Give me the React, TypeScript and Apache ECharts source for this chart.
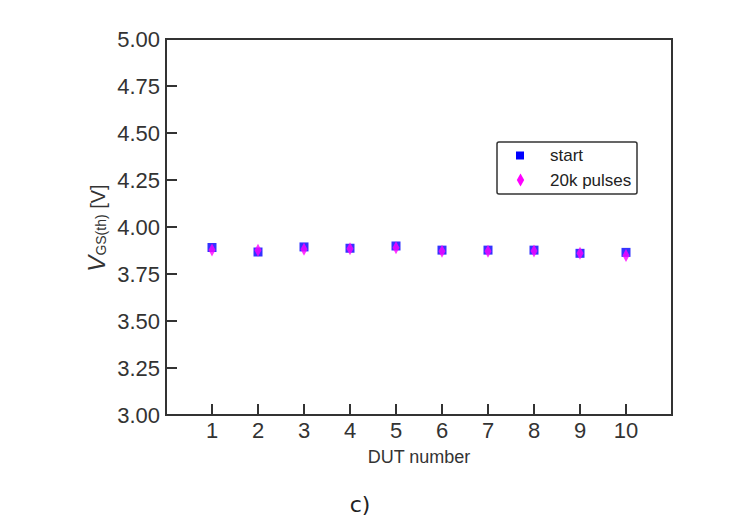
import React, { useEffect, useRef } from "react";
import * as echarts from "echarts";

const dutNumbers = [1, 2, 3, 4, 5, 6, 7, 8, 9, 10];
const startValues = [3.891, 3.867, 3.894, 3.887, 3.899, 3.877, 3.877, 3.877, 3.86, 3.865];
const pulsesValues = [3.878, 3.876, 3.882, 3.884, 3.89, 3.871, 3.871, 3.873, 3.86, 3.848];
const seriesNames = ["start", "20k pulses"];
const xRange = [0, 11];
const yRange = [3, 5];

const FONT = "'Liberation Sans', Arial, sans-serif";
const AX = "#333";

export default function App() {
  const ref = useRef<HTMLDivElement>(null);
  useEffect(() => {
    if (!ref.current) return;
    const chart = echarts.init(ref.current, null, { renderer: "svg" });
    const option: any = {
      animation: false,
      backgroundColor: "#fff",
      grid: {
        left: 166,
        right: 62,
        top: 39,
        bottom: 102,
        show: true,
        borderColor: AX,
        borderWidth: 2,
        backgroundColor: "transparent",
      },
      xAxis: {
        type: "value",
        min: xRange[0],
        max: xRange[1],
        interval: 1,
        name: "DUT number",
        nameLocation: "middle",
        nameGap: 33,
        nameTextStyle: { fontFamily: FONT, fontSize: 18, color: "#333" },
        axisLine: { show: true, lineStyle: { color: AX, width: 2 } },
        axisTick: { show: true, inside: true, length: 11, lineStyle: { color: AX, width: 2 } },
        axisLabel: {
          margin: 4,
          fontFamily: FONT,
          fontSize: 22,
          color: "#333",
          formatter: (v: number) => (v >= 1 && v <= 10 ? String(v) : ""),
        },
        splitLine: { show: false },
      },
      yAxis: {
        type: "value",
        min: yRange[0],
        max: yRange[1],
        interval: 0.25,
        axisLine: { show: true, lineStyle: { color: AX, width: 2 } },
        axisTick: { show: true, inside: true, length: 11, lineStyle: { color: AX, width: 2 } },
        axisLabel: {
          margin: 6,
          fontFamily: FONT,
          fontSize: 22,
          color: "#333",
          formatter: (v: number) => v.toFixed(2),
        },
        splitLine: { show: false },
      },
      series: [
        {
          name: seriesNames[0],
          type: "scatter",
          symbol: "rect",
          symbolSize: 9,
          itemStyle: { color: "#0000ff" },
          data: dutNumbers.map((d, i) => [d, startValues[i]]),
          z: 2,
        },
        {
          name: seriesNames[1],
          type: "scatter",
          symbol: "diamond",
          symbolSize: [7, 13],
          itemStyle: { color: "#ff00ff" },
          data: dutNumbers.map((d, i) => [d, pulsesValues[i]]),
          z: 3,
        },
      ],
      graphic: [
        {
          type: "group",
          z: 100,
          children: [
            {
              type: "rect",
              shape: { x: 497, y: 142, width: 140, height: 52, r: 2 },
              style: { fill: "#fff", stroke: "#333", lineWidth: 1.5 },
            },
            {
              type: "rect",
              shape: { x: 516, y: 151.5, width: 8, height: 8 },
              style: { fill: "#0000ff" },
            },
            {
              type: "polygon",
              shape: {
                points: [
                  [520.5, 173.5],
                  [524.2, 180],
                  [520.5, 186.5],
                  [516.8, 180],
                ],
              },
              style: { fill: "#ff00ff" },
            },
            {
              type: "text",
              x: 550,
              y: 155.5,
              style: {
                text: seriesNames[0],
                fontFamily: FONT,
                fontSize: 17,
                fill: "#222",
                align: "left",
                verticalAlign: "middle",
              },
            },
            {
              type: "text",
              x: 550,
              y: 180,
              style: {
                text: seriesNames[1],
                fontFamily: FONT,
                fontSize: 17,
                fill: "#222",
                align: "left",
                verticalAlign: "middle",
              },
            },
          ],
        },
        {
          type: "text",
          x: 96,
          y: 228,
          rotation: Math.PI / 2,
          style: {
            text: "{v|V}{s|GS(th)}{u| [V]}",
            align: "center",
            verticalAlign: "middle",
            fill: "#333",
            rich: {
              v: { fontFamily: FONT, fontSize: 24, fontStyle: "italic", fill: "#333", lineHeight: 24, verticalAlign: "bottom" },
              s: { fontFamily: FONT, fontSize: 14, fill: "#333", lineHeight: 13, verticalAlign: "bottom" },
              u: { fontFamily: FONT, fontSize: 20, fill: "#333", lineHeight: 20, verticalAlign: "bottom" },
            },
          },
        },
        {
          type: "text",
          x: 360,
          y: 504,
          style: {
            text: "c)",
            fontFamily: "'DejaVu Sans', sans-serif",
            fontSize: 22,
            fill: "#222",
            align: "center",
            verticalAlign: "middle",
          },
        },
      ],
    };
    chart.setOption(option);
    return () => chart.dispose();
  }, []);
  return (
    <div
      ref={ref}
      style={{ position: "fixed", left: 0, top: 0, width: 734, height: 517, background: "#fff" }}
    />
  );
}
